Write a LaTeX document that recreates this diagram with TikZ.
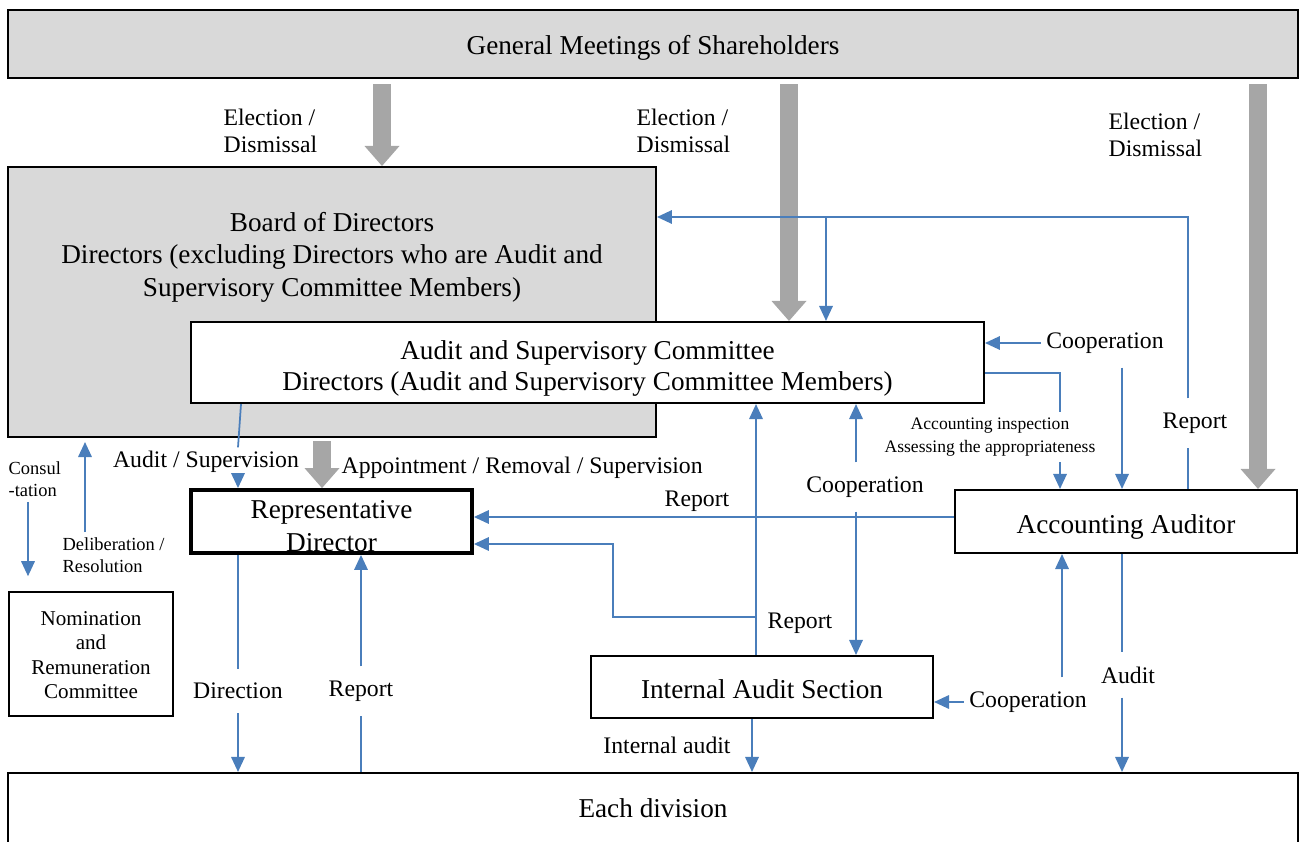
\documentclass[tikz,border=0pt]{standalone}
\usepackage{fontspec}
\setmainfont{Liberation Serif}
\usepackage{xcolor}
\usepackage{tikz}
\usetikzlibrary{shapes,arrows.meta}

\definecolor{boxgray}{RGB}{217,217,217}
\definecolor{fatgray}{RGB}{166,166,166}
\definecolor{lineblue}{RGB}{74,126,187}

\newcommand{\boxfont}{\fontsize{15.5}{18.5}\selectfont}
\newcommand{\lblfont}{\fontsize{13.5}{15.5}\selectfont}
\newcommand{\inspfont}{\fontsize{10}{13.5}\selectfont}
\newcommand{\notefont}{\fontsize{10.5}{12.3}\selectfont}
\newcommand{\nrcfont}{\fontsize{12}{14}\selectfont}

\tikzstyle{grayblock} = [rectangle, draw, line width=1.2pt, fill=boxgray, inner sep=0pt]
\tikzstyle{block} = [rectangle, draw, line width=1.2pt, fill=white, align=center, font=\boxfont, inner sep=0pt]
\tikzstyle{lbl} = [font=\lblfont, align=left, inner xsep=3pt, inner ysep=0.28cm]
\tikzstyle{line} = [draw=lineblue, line width=1pt, -{Triangle[length=0.3cm, width=0.27cm]}]
\tikzstyle{plain} = [draw=lineblue, line width=1pt]
\tikzstyle{fat} = [draw=fatgray, line width=0.36cm, -{Triangle[length=0.4cm, width=0.7cm, line width=0pt]}]

\begin{document}
\begin{tikzpicture}[x=0.02cm, y=-0.02cm]
    \useasboundingbox (0,0) rectangle (1300,841);
    % Place nodes
    \node [grayblock, font=\boxfont, text height=15.2pt, minimum width=25.8cm, minimum height=1.36cm] (gms) at (653,44) {General Meetings of Shareholders};
    \node [grayblock, minimum width=12.96cm, minimum height=5.4cm] (board) at (332,302) {};
    \node [align=center, font=\boxfont] (boardtxt) at (332,257) {Board of Directors\\Directors (excluding Directors who are Audit and\\Supervisory Committee Members)};
    \node [block, font=\fontsize{15.5}{18}\selectfont, text height=35.6pt, minimum width=15.86cm, minimum height=1.62cm] (asc) at (587.5,362.5) {Audit and Supervisory Committee\\Directors (Audit and Supervisory Committee Members)};
    \node [block, line width=2.2pt, text height=34.2pt, minimum width=5.62cm, minimum height=1.26cm] (rd) at (331.5,521.5) {Representative\\Director};
    \node [block, text height=17.4pt, minimum width=6.84cm, minimum height=1.26cm] (aa) at (1126,521.5) {Accounting Auditor};
    \node [block, text height=12.8pt, minimum width=6.84cm, minimum height=1.24cm] (ias) at (762,687) {Internal Audit Section};
    \node [block, line width=0.9pt, font=\nrcfont, text height=51.3pt, minimum width=3.28cm, minimum height=2.48cm] (nrc) at (91,654) {Nomination\\and\\Remuneration\\Committee};
    \node [block, text height=8.4pt, minimum width=25.8cm, minimum height=1.48cm] (div) at (653,810) {Each division};

    % Labels
    \node [lbl, anchor=west] (elec1) at (218,131) {Election /\\Dismissal};
    \node [lbl, anchor=west] (elec2) at (631,131) {Election /\\Dismissal};
    \node [lbl, anchor=west] (elec3) at (1103,135) {Election /\\Dismissal};
    \node [lbl] (rep1) at (1195,423) {Report};
    \node [lbl] (coop1) at (1105,343) {Cooperation};
    \node [lbl, font=\inspfont, align=center, inner ysep=3pt] (insp) at (990,437) {Accounting inspection\\Assessing the appropriateness};
    \node [lbl] (coop2) at (865,487) {Cooperation};
    \node [lbl] (rep2) at (697,501) {Report};
    \node [lbl] (rep3) at (800,623) {Report};
    \node [lbl, inner ysep=2pt] (aus) at (206,462) {Audit / Supervision};
    \node [lbl, anchor=west] (appt) at (336,468) {Appointment / Removal / Supervision};
    \node [lbl] (dir) at (238,691) {Direction};
    \node [lbl] (rep4) at (361,691) {Report};
    \node [lbl] (intaud) at (667,745) {Internal audit};
    \node [lbl] (coop3) at (1028,702) {Cooperation};
    \node [lbl] (aud) at (1128,675) {Audit};
    \node [lbl, font=\notefont, anchor=west, inner ysep=3pt] (cons) at (3,479) {Consul\\-tation};
    \node [lbl, font=\notefont, anchor=west, inner ysep=3pt] (delib) at (57,555) {Deliberation /\\Resolution};

    \coordinate (rjoin) at (826,217);
    \coordinate (ijoin) at (756,617);

    % Draw edges
    \path [fat, shorten <=0.1cm] (382,0 |- gms.south) -- (382,0 |- board.north);
    \path [fat, shorten <=0.1cm] (789,0 |- gms.south) -- (789,0 |- asc.north);
    \path [fat, shorten <=0.1cm] (1258,0 |- gms.south) -- (1258,0 |- aa.north);
    \path [fat, shorten <=0.06cm] (322,0 |- board.south) -- (322,0 |- rd.north);

    \path [plain] (1188,0 |- aa.north) -- (1188,0 |- rep1.south);
    \path [line] (1188,0 |- rep1.north) -- (1188,0 |- rjoin) -- (board.east |- rjoin);
    \path [line] (rjoin) -- (rjoin |- asc.north);
    \path [line] (coop1.west) -- (coop1.west -| asc.east);
    \path [line] (1122,0 |- coop1.south) -- (1122,0 |- aa.north);
    \path [plain] (asc.east |- 0,373) -- (1060,373) -- (1060,0 |- insp.north);
    \path [line] (1060,0 |- insp.south) -- (1060,0 |- aa.north);
    \path [line] (856,0 |- coop2.north) -- (856,0 |- asc.south);
    \path [line] (856,0 |- coop2.south) -- (856,0 |- ias.north);
    \path [line] (ias.north -| ijoin) -- (ijoin |- asc.south);
    \path [line] (ijoin) -- (613,617) -- (613,544) -- (rd.east |- 0,544);
    \path [line] (aa.west |- 0,517) -- (rd.east |- 0,517);
    \path [plain] (241,0 |- asc.south) -- (238,0 |- aus.north);
    \path [line] (238,0 |- aus.south) -- (238,0 |- rd.north);
    \path [plain] (rd.south -| dir) -- (dir.north);
    \path [line] (dir.south) -- (dir |- div.north);
    \path [plain] (rep4 |- div.north) -- (rep4.south);
    \path [line] (rep4.north) -- (rep4 |- rd.south);
    \path [line] (752,0 |- ias.south) -- (752,0 |- div.north);
    \path [line] (coop3.west) -- (coop3.west -| ias.east);
    \path [line] (1062,0 |- coop3.north) -- (1062,0 |- aa.south);
    \path [plain] (1122,0 |- aa.south) -- (1122,0 |- aud.north);
    \path [line] (1122,0 |- aud.south) -- (1122,0 |- div.north);
    \path [line, shorten >=0.3cm] (28,0 |- cons.south) -- (28,0 |- nrc.north);
    \path [line, shorten >=0.08cm] (85,0 |- delib.north) -- (85,0 |- board.south);
\end{tikzpicture}
\end{document}
